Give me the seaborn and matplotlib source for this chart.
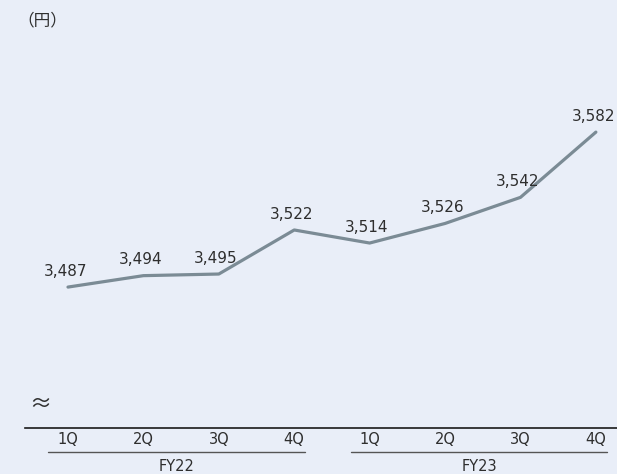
import matplotlib
matplotlib.use("Agg")
import matplotlib.pyplot as plt
import matplotlib.transforms as mtransforms
import seaborn as sns
import pandas as pd

quarters = ["1Q", "2Q", "3Q", "4Q", "1Q", "2Q", "3Q", "4Q"]
fiscal_years = ["FY22", "FY23"]
prices = [3487, 3494, 3495, 3522, 3514, 3526, 3542, 3582]
unit_label = "（円）"

bg = "#E9EEF8"
line_color = "#7B8B95"
text_color = "#2E2E2E"

sns.set_theme(style="white")
plt.rcParams["font.family"] = ["DejaVu Sans", "Noto Sans CJK JP"]

df = pd.DataFrame({"pos": range(len(prices)), "price": prices})

fig = plt.figure(figsize=(6.17, 4.74), dpi=100, facecolor=bg)
ax = fig.add_axes([25 / 617, 46 / 474, 592 / 617, 428 / 474])
ax.set_facecolor(bg)

sns.lineplot(data=df, x="pos", y="price", ax=ax, color=line_color,
             linewidth=2.3, marker=None)

for x, v in zip(df["pos"], df["price"]):
    ax.annotate(f"{v:,}", (x, v), xytext=(-2, 6), textcoords="offset points",
                ha="center", va="bottom", fontsize=11, color=text_color)

ax.set_xlim(-0.57, 7.28)
ax.set_ylim(3400.6, 3663)

for side in ["top", "right", "left"]:
    ax.spines[side].set_visible(False)
ax.spines["bottom"].set_color("#1A1A1A")
ax.spines["bottom"].set_linewidth(1.2)
ax.set_yticks([])
ax.set_xticks([])
ax.set_xlabel("")
ax.set_ylabel("")

trans = mtransforms.blended_transform_factory(ax.transData, ax.transAxes)
for i, q in enumerate(quarters):
    ax.text(i, -0.028, q, transform=trans, ha="center", va="center",
            fontsize=10.5, color=text_color)

groups = [(-0.265, 3.14), (3.75, 7.15)]
for (x0, x1), fy in zip(groups, fiscal_years):
    ax.plot([x0, x1], [-0.056, -0.056], transform=trans, color="#555555",
            linewidth=1.0, clip_on=False)
    ax.text((x0 + x1) / 2, -0.089, fy, transform=trans, ha="center",
            va="center", fontsize=10.5, color=text_color)

ax.text(-0.371, 0.054, "≈", transform=trans, ha="center", va="center",
        fontsize=16, color=text_color, family=["Noto Sans CJK JP"])

fig.text(42 / 617, 1 - 21 / 474, unit_label, ha="center", va="center",
         fontsize=12, color=text_color, family=["Noto Sans CJK JP"])

fig.savefig("out.png", dpi=100, facecolor=bg)
